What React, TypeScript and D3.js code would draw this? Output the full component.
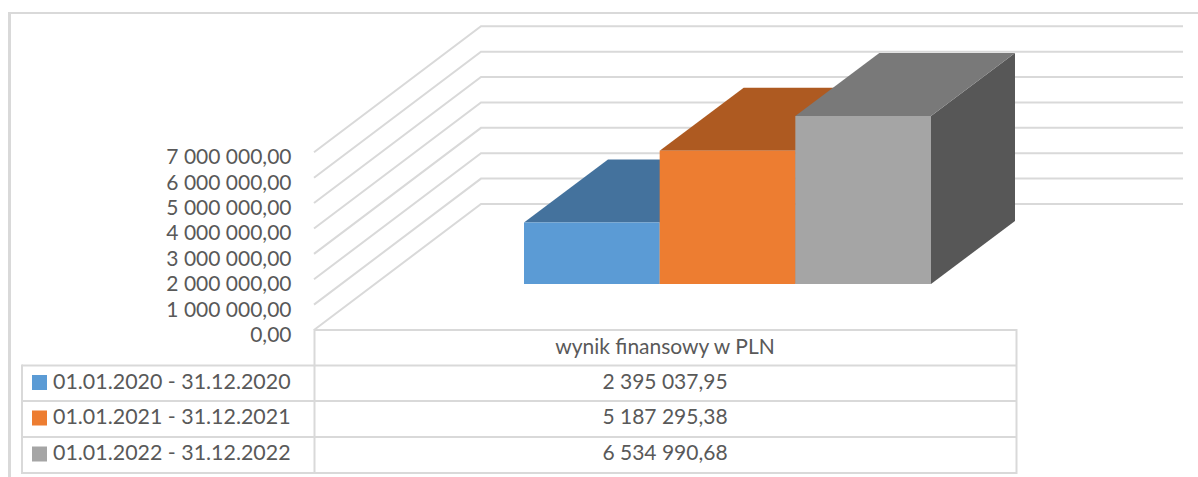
import { useRef, useEffect } from 'react';
import * as d3 from 'd3';

const periods = ['01.01.2020 - 31.12.2020', '01.01.2021 - 31.12.2021', '01.01.2022 - 31.12.2022'];
const values = [2395037.95, 5187295.38, 6534990.68];
const yTicks = [0, 1000000, 2000000, 3000000, 4000000, 5000000, 6000000, 7000000];
const categoryLabel = 'wynik finansowy w PLN';
const frontColors = ['#5b9bd5', '#ed7d31', '#a5a5a5'];
const topColors = ['#44729d', '#ae5a21', '#797979'];
const sideColors = ['#3a6287', '#8f4a1b', '#575757'];

const W = 1198;
const H = 477;
const FONT = 'Lato, sans-serif';
const TEXT = '#595959';
const GRID = '#d9d9d9';

export default function App() {
  const ref = useRef<SVGSVGElement | null>(null);

  useEffect(() => {
    const svg = d3.select(ref.current);
    svg.selectAll('*').remove();

    const fmt = d3.formatLocale({ decimal: ',', thousands: ' ', grouping: [3], currency: ['', ''] }).format(',.2f');

    const y = d3.scaleLinear().domain([0, 7000000]).range([330, 152.3]);
    const barY = d3.scaleLinear().domain([0, 7000000]).range([284, 104.1]);
    const x = d3.scaleBand().domain(periods).range([524, 931]);
    const wall = { dx: 167, dy: -126, right: 1183 };
    const bar = { dx: 84, dy: -63 };

    const line = (x1: number, y1: number, x2: number, y2: number, w = 2) =>
      svg.append('line')
        .attr('x1', x1).attr('y1', y1).attr('x2', x2).attr('y2', y2)
        .attr('stroke', GRID).attr('stroke-width', w);

    // outer chart frame
    line(9.5, 12, 9.5, H, 3);
    line(8, 13, W, 13, 2);

    // gridlines: side wall then back wall
    yTicks.forEach(t => {
      const p = d3.path();
      p.moveTo(314, y(t));
      p.lineTo(314 + wall.dx, y(t) + wall.dy);
      p.lineTo(wall.right, y(t) + wall.dy);
      svg.append('path').attr('d', p.toString()).attr('fill', 'none')
        .attr('stroke', GRID).attr('stroke-width', 2);

      svg.append('text').attr('x', 291.5).attr('y', y(t) + 12)
        .attr('text-anchor', 'end').attr('font-family', FONT).attr('font-size', 21)
        .attr('fill', TEXT).text(fmt(t));
    });

    // 3d bars, drawn left to right so each one covers the previous
    periods.forEach((name, i) => {
      const x0 = x(name)!;
      const x1 = x0 + x.bandwidth();
      const base = barY(0);
      const top = barY(values[i]);
      const poly = (pts: [number, number][], fill: string) =>
        svg.append('polygon').attr('points', pts.join(' ')).attr('fill', fill);
      poly([[x1, top], [x1 + bar.dx, top + bar.dy], [x1 + bar.dx, base + bar.dy], [x1, base]], sideColors[i]);
      poly([[x0, top], [x0 + bar.dx, top + bar.dy], [x1 + bar.dx, top + bar.dy], [x1, top]], topColors[i]);
      poly([[x0, top], [x1, top], [x1, base], [x0, base]], frontColors[i]);
    });

    // data table
    const rows = [330, 365.5, 401, 437, 473];
    const tableL = 22;
    const tableM = 314.5;
    const tableR = 1016.5;
    rows.forEach((r, i) => line(i === 0 ? tableM : tableL, r, tableR, r));
    line(tableM, rows[0] - 1, tableM, rows[4] + 1);
    line(tableR, rows[0] - 1, tableR, rows[4] + 1);
    line(tableL, rows[1] - 1, tableL, rows[4] + 1);

    const cx = 665;
    const text = (tx: number, ty: number, s: string, anchor: string, size = 21) =>
      svg.append('text').attr('x', tx).attr('y', ty).attr('text-anchor', anchor)
        .attr('font-family', FONT).attr('font-size', size).attr('fill', TEXT).text(s);

    text(cx, 353.5, categoryLabel, 'middle');
    periods.forEach((name, i) => {
      const ty = rows[i + 1] + 23;
      svg.append('rect').attr('x', 32).attr('y', rows[i + 1] + 9.5).attr('width', 15).attr('height', 15)
        .attr('fill', frontColors[i]);
      text(53, ty, name, 'start', 21.4);
      text(cx, ty, fmt(values[i]), 'middle');
    });
  }, []);

  return (
    <svg ref={ref} width={W} height={H}
      style={{ position: 'absolute', left: 0, top: 0, display: 'block', background: '#fff' }} />
  );
}
